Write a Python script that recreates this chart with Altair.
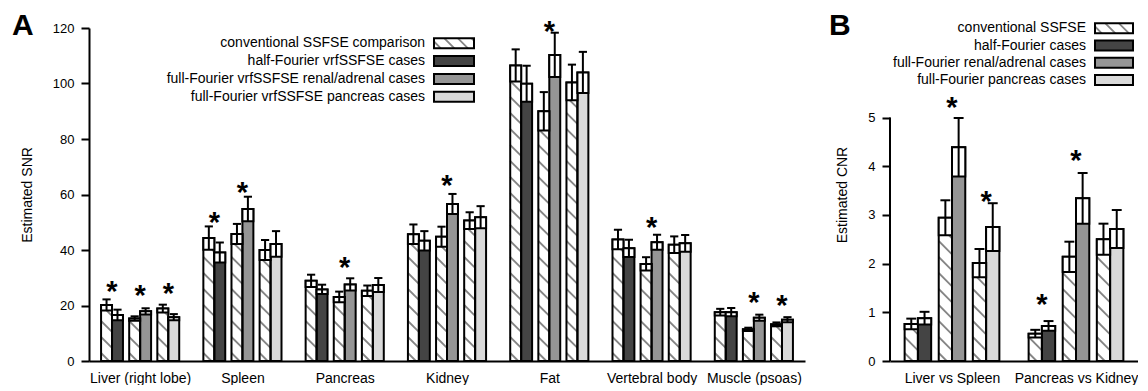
import altair as alt
import pandas as pd

FONT = "Liberation Sans"

# ---------------- Panel A: estimated SNR ----------------
a_categories = ["Liver (right lobe)", "Spleen", "Pancreas", "Kidney", "Fat",
                "Vertebral body", "Muscle (psoas)"]
a_conv_half_mean = [20.2, 44.3, 28.9, 45.7, 106.5, 43.8, 17.6]
a_conv_half_err = [2.0, 4.2, 2.2, 3.5, 5.8, 3.5, 1.2]
a_half_mean = [16.6, 39.1, 25.8, 43.3, 99.9, 40.6, 17.6]
a_half_err = [1.9, 3.6, 1.7, 3.5, 6.5, 3.1, 1.5]
a_conv_renal_mean = [15.3, 45.8, 23.1, 44.8, 90.0, 35.0, 11.4]
a_conv_renal_err = [0.8, 3.6, 1.9, 3.6, 6.9, 2.4, 0.6]
a_renal_mean = [17.9, 54.8, 27.6, 56.6, 110.3, 42.8, 15.6]
a_renal_err = [1.1, 4.4, 2.2, 3.6, 8.0, 2.7, 1.1]
a_conv_panc_mean = [18.9, 40.0, 25.3, 50.6, 100.4, 41.9, 13.2]
a_conv_panc_err = [1.4, 3.6, 1.9, 3.0, 6.4, 3.0, 0.7]
a_panc_mean = [15.8, 42.2, 27.4, 51.8, 104.0, 42.4, 14.9]
a_panc_err = [1.1, 4.6, 2.5, 4.0, 7.4, 3.0, 0.9]
a_star_group = [0, 0, 0, 1, 1, 2, 3, 4, 5, 6, 6]
a_star_pair = [0, 1, 2, 0, 1, 1, 1, 1, 1, 1, 2]
a_star_y = [27.8, 26.4, 26.8, 52.4, 63.2, 36.2, 65.8, 121.3, 50.6, 23.6, 22.8]
a_legend = ["conventional SSFSE comparison", "half-Fourier vrfSSFSE cases",
            "full-Fourier vrfSSFSE renal/adrenal cases",
            "full-Fourier vrfSSFSE pancreas cases"]
a_ticks = [0, 20, 40, 60, 80, 100, 120]
a_ytitle = "Estimated SNR"

# ---------------- Panel B: estimated CNR ----------------
b_categories = ["Liver vs Spleen", "Pancreas vs Kidney"]
b_conv_half_mean = [0.76, 0.56]
b_conv_half_err = [0.11, 0.08]
b_half_mean = [0.88, 0.72]
b_half_err = [0.13, 0.10]
b_conv_renal_mean = [2.94, 2.14]
b_conv_renal_err = [0.36, 0.31]
b_renal_mean = [4.39, 3.34]
b_renal_err = [0.60, 0.52]
b_conv_panc_mean = [2.01, 2.50]
b_conv_panc_err = [0.29, 0.32]
b_panc_mean = [2.75, 2.71]
b_panc_err = [0.49, 0.39]
b_star_group = [0, 0, 1, 1]
b_star_pair = [1, 2, 0, 1]
b_star_y = [5.35, 3.42, 1.31, 4.26]
b_legend = ["conventional SSFSE", "half-Fourier cases",
            "full-Fourier renal/adrenal cases", "full-Fourier pancreas cases"]
b_ticks = [0, 1, 2, 3, 4, 5]
b_ytitle = "Estimated CNR"

SERIES = ["conv", "half", "renal", "panc"]
COLORS = ["white", "#444444", "#959595", "#d9d9d9"]
BW = 0.107      # bar width (fraction of a group)
PSTEP = 0.275   # distance between pair centres
CAP = 0.08      # error cap width
HATCH_PERIOD = 16
HATCH_COLOR = "#858585"
STAR_SIZE = 29
color_scale = alt.Scale(domain=SERIES, range=COLORS)


def long_table(ch, che, h, he, cr, cre, r, re_, cp, cpe, p, pe):
    rows = []
    pairs = [(ch, che, "half", h, he), (cr, cre, "renal", r, re_), (cp, cpe, "panc", p, pe)]
    for g in range(len(ch)):
        for k, (cm, ce, key, vm, ve) in enumerate(pairs):
            rows.append(dict(g=g, pair=k, role=0, series="conv", mean=cm[g], err=ce[g]))
            rows.append(dict(g=g, pair=k, role=1, series=key, mean=vm[g], err=ve[g]))
    return pd.DataFrame(rows)


def hatch_lines(w, H, period):
    segs = []
    c = period * 0.5
    while c < H + w:
        ua = max(0.0, c - H)
        ub = min(w, c)
        if ub - ua > 0.3:
            segs.append((ua, c - ua, ub, c - ub))
        c += period
    return segs


def panel(df, cats, sg, sp, sy, ydom, yticks, ytitle, W, H, legend_labels,
          leg_right, leg_top, leg_step, sw_w, letter, letter_dx, own_domain):
    n = len(cats)
    pxx = W / n
    pxy = H / ydom
    xsc = alt.Scale(domain=[0, n], nice=False, zero=False)
    ysc = alt.Scale(domain=[0, ydom], nice=False, zero=True)
    label_list = "[" + ",".join("'" + c + "'" for c in cats) + "]"
    xax = alt.Axis(values=[i + 0.5 for i in range(n)],
                   labelExpr=label_list + "[floor(datum.value)]",
                   ticks=False, grid=False, title=None, labelPadding=10,
                   labelFontSize=14, domainWidth=2, labelAngle=0)
    yax = alt.Axis(values=yticks, grid=False, title=ytitle, format="d",
                   tickSize=8, tickWidth=2, labelPadding=7, titlePadding=18,
                   labelFontSize=13, titleFontSize=14,
                   domain=not own_domain, domainWidth=2)

    def X(f):
        return alt.X(f, scale=xsc, axis=xax)

    def Y(f):
        return alt.Y(f, scale=ysc, axis=yax)

    base = (alt.Chart(df)
            .transform_calculate(xl=f"datum.g + 0.5 + (datum.pair - 1) * {PSTEP} + (datum.role - 1) * {BW}")
            .transform_calculate(xr=f"datum.xl + {BW}")
            .transform_calculate(xc=f"datum.xl + {BW / 2}")
            .transform_calculate(cl=f"datum.xc - {CAP / 2}")
            .transform_calculate(cr=f"datum.xc + {CAP / 2}")
            .transform_calculate(lo="datum.mean - datum.err")
            .transform_calculate(hi="datum.mean + datum.err")
            .transform_calculate(zero="0"))

    fill = base.mark_rect(strokeWidth=0).encode(
        x=X("xl:Q"), x2="xr:Q", y=Y("mean:Q"), y2="zero:Q",
        fill=alt.Fill("series:N", scale=color_scale, legend=None))

    # hatch segments for conventional bars
    hrows = []
    conv = df[df.series == "conv"]
    for _, r in conv.iterrows():
        xl = r.g + 0.5 + (r.pair - 1) * PSTEP - BW
        for (u0, h0, u1, h1) in hatch_lines(BW * pxx, r["mean"] * pxy, HATCH_PERIOD):
            hrows.append(dict(x=xl + u0 / pxx, y=h0 / pxy, x2=xl + u1 / pxx, y2=h1 / pxy))
    hatch = alt.Chart(pd.DataFrame(hrows)).mark_rule(
        color=HATCH_COLOR, strokeWidth=1.8).encode(
        x=X("x:Q"), x2="x2:Q", y=Y("y:Q"), y2="y2:Q")

    outline = base.mark_rect(fillOpacity=0, stroke="black", strokeWidth=2).encode(
        x=X("xl:Q"), x2="xr:Q", y=Y("mean:Q"), y2="zero:Q")
    box = base.mark_rect(fill="white", stroke="black", strokeWidth=2).encode(
        x=X("xl:Q"), x2="xr:Q", y=Y("lo:Q"), y2="mean:Q")
    whisker = base.mark_rule(color="black", strokeWidth=2).encode(
        x=X("xc:Q"), y=Y("lo:Q"), y2="hi:Q")
    cap = base.mark_rule(color="black", strokeWidth=2).encode(
        x=X("cl:Q"), x2="cr:Q", y=Y("hi:Q"))

    star_df = pd.DataFrame({"g": sg, "pair": sp, "sy": sy})
    stars = (alt.Chart(star_df)
             .transform_calculate(sx=f"datum.g + 0.5 + (datum.pair - 1) * {PSTEP}")
             .mark_text(text="*", font=FONT, fontSize=STAR_SIZE, fontWeight="bold",
                        baseline="alphabetic", align="center",
                        dy=0.58 * STAR_SIZE, color="black")
             .encode(x=X("sx:Q"), y=Y("sy:Q")))

    leg_df = pd.DataFrame({"label": legend_labels, "series": SERIES, "i": list(range(4))})
    leg_base = (alt.Chart(leg_df)
                .transform_calculate(ly=f"{leg_top} + datum.i * {leg_step}")
                .transform_calculate(ly0="datum.ly - 5")
                .transform_calculate(ly1="datum.ly + 5"))
    leg_text = leg_base.mark_text(align="right", baseline="middle", font=FONT,
                                  fontSize=14, color="black").encode(
        x=alt.value(leg_right), y=alt.Y("ly:Q", scale=None), text="label:N")
    sw_x0 = leg_right + 9
    leg_fill = leg_base.mark_rect(strokeWidth=0).encode(
        x=alt.value(sw_x0), x2=alt.value(sw_x0 + sw_w),
        y=alt.Y("ly0:Q", scale=None), y2="ly1:Q",
        fill=alt.Fill("series:N", scale=color_scale, legend=None))
    lh = []
    for (u0, h0, u1, h1) in hatch_lines(sw_w, 10, HATCH_PERIOD * 0.85):
        lh.append(dict(x=sw_x0 + u0, y=leg_top + 5 - h0, x2=sw_x0 + u1, y2=leg_top + 5 - h1))
    leg_hatch = alt.Chart(pd.DataFrame(lh)).mark_rule(
        color=HATCH_COLOR, strokeWidth=1.8).encode(
        x=alt.X("x:Q", scale=None), x2="x2:Q",
        y=alt.Y("y:Q", scale=None), y2="y2:Q")
    leg_outline = leg_base.mark_rect(fillOpacity=0, stroke="black", strokeWidth=2).encode(
        x=alt.value(sw_x0), x2=alt.value(sw_x0 + sw_w),
        y=alt.Y("ly0:Q", scale=None), y2="ly1:Q")

    letter_mark = alt.Chart(pd.DataFrame({"t": [letter]})).mark_text(
        align="left", baseline="alphabetic", font=FONT, fontSize=30,
        fontWeight="bold", color="black").encode(
        x=alt.value(letter_dx), y=alt.value(7), text="t:N")

    layers = [fill, hatch, outline, box, whisker, cap, stars,
              leg_fill, leg_hatch, leg_outline, leg_text, letter_mark]
    if own_domain:
        dom = alt.Chart(pd.DataFrame({"lo": [min(yticks)], "hi": [max(yticks)]})).mark_rule(
            color="black", strokeWidth=2).encode(
            x=alt.value(0), y=Y("lo:Q"), y2="hi:Q")
        layers.append(dom)
    return alt.layer(*layers).properties(width=W, height=H)


a_df = long_table(a_conv_half_mean, a_conv_half_err, a_half_mean, a_half_err,
                  a_conv_renal_mean, a_conv_renal_err, a_renal_mean, a_renal_err,
                  a_conv_panc_mean, a_conv_panc_err, a_panc_mean, a_panc_err)
b_df = long_table(b_conv_half_mean, b_conv_half_err, b_half_mean, b_half_err,
                  b_conv_renal_mean, b_conv_renal_err, b_renal_mean, b_renal_err,
                  b_conv_panc_mean, b_conv_panc_err, b_panc_mean, b_panc_err)

A = panel(a_df, a_categories, a_star_group, a_star_pair, a_star_y, 120, a_ticks,
          a_ytitle, 716, 333, a_legend, 336, 15.3, 17.8, 40, "A", -77, False)
B = panel(b_df, b_categories, b_star_group, b_star_pair, b_star_y, 333 / 48.7, b_ticks,
          b_ytitle, 248, 333, b_legend, 196, 0.3, 17.2, 38, "B", -61, True)

chart = (alt.hconcat(A, B, spacing=24)
         .configure_view(stroke=None)
         .configure_axis(labelFont=FONT, labelColor="black",
                         titleFont=FONT, titleFontWeight="normal",
                         titleColor="black", domainColor="black", tickColor="black")
         .properties(padding={"left": 4, "top": 3, "right": 0, "bottom": 0},
                     background="white"))

chart.save("out.html", embed_options={"renderer": "svg", "actions": False})
